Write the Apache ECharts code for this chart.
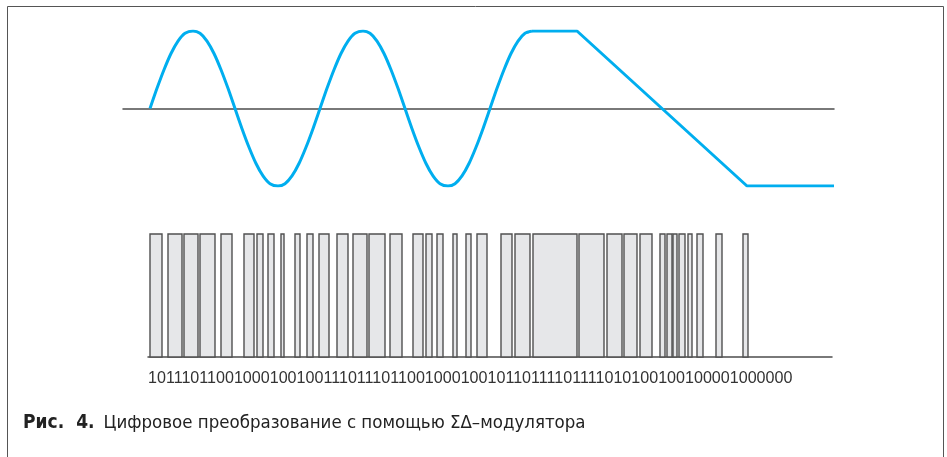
<!DOCTYPE html>
<html>
<head>
<meta charset="utf-8">
<script src="https://cdn.jsdelivr.net/npm/echarts@6/dist/echarts.min.js"></script>
<style>
html,body{margin:0;padding:0;background:#fff;}
#chart{width:947px;height:457px;}
</style>
</head>
<body>
<div id="chart"></div>
<script>
// Analog input: time (arbitrary units) and normalized amplitude
const sineTime  = [0, 7, 14, 21, 28, 35, 43, 50, 57, 64, 71, 78, 85, 92, 99, 106, 113, 120, 128, 135, 142, 149, 156, 163,
                   170, 177, 184, 191, 198, 205, 213, 220, 227, 234, 241, 248, 255, 262, 269, 276, 283, 290, 298, 305, 312, 319, 326, 333,
                   340, 347, 354, 361, 368, 375, 382];
const sineValue = [0, 0.26, 0.5, 0.71, 0.87, 0.97, 1, 0.97, 0.87, 0.71, 0.5, 0.26, 0, -0.26, -0.5, -0.71, -0.87, -0.97, -1, -0.97, -0.87, -0.71, -0.5, -0.26,
                   0, 0.26, 0.5, 0.71, 0.87, 0.97, 1, 0.97, 0.87, 0.71, 0.5, 0.26, 0, -0.26, -0.5, -0.71, -0.87, -0.97, -1, -0.97, -0.87, -0.71, -0.5, -0.26,
                   0, 0.26, 0.5, 0.71, 0.87, 0.97, 1];
// Saturated plateau, linear ramp and flat tail
const rampTime  = [382, 427, 597, 684];
const rampValue = [1, 1, -1, -1];
// Output pulses: start and end times
const pulseStart = [0, 18, 34, 50, 71, 94, 107, 118, 131, 145, 157, 169, 187, 203, 219, 240, 263, 276, 287, 303, 316, 327, 351, 365, 383, 429, 457, 474, 490, 510, 517, 523, 529, 538, 547, 566, 593];
const pulseEnd   = [12, 32, 48, 65, 82, 104, 113, 124, 134, 150, 163, 179, 198, 217, 235, 252, 273, 282, 293, 307, 321, 337, 362, 380, 427, 454, 472, 487, 502, 515, 522, 527, 535, 542, 553, 572, 598];
// Bit stream label
const bitString = '10111011001000100100111011101100100010010110111101111010100100100001000000';
const captionBold1 = 'Рис.';
const captionBold2 = '4.';
const captionText = 'Цифровое преобразование с помощью ΣΔ–модулятора';

const chart = echarts.init(document.getElementById('chart'), null, {renderer: 'canvas'});
const pulses = pulseStart.map((s, i) => [s, pulseEnd[i]]);
const capFont = '"Liberation Sans Narrow", "DejaVu Sans Condensed", "Roboto", sans-serif';

const option = {
  animation: false,
  backgroundColor: '#ffffff',
  grid: [
    {left: 123, right: 113, top: 31, height: 155},
    {left: 148, right: 115, top: 234, height: 123}
  ],
  xAxis: [
    {gridIndex: 0, type: 'value', min: -27, max: 684,
     axisLine: {show: true, onZero: true, lineStyle: {color: '#4d4d4d', width: 1.5}},
     axisTick: {show: false}, axisLabel: {show: false}, splitLine: {show: false}},
    {gridIndex: 1, type: 'value', min: -2, max: 682,
     axisLine: {show: true, lineStyle: {color: '#4d4d4d', width: 1.5}},
     axisTick: {show: false}, axisLabel: {show: false}, splitLine: {show: false}}
  ],
  yAxis: [
    {gridIndex: 0, type: 'value', min: -1, max: 1, show: false},
    {gridIndex: 1, type: 'value', min: 0, max: 1, show: false}
  ],
  series: [
    {
      type: 'custom', xAxisIndex: 1, yAxisIndex: 1, z: 1,
      data: pulses,
      renderItem: function (params, api) {
        const p0 = api.coord([api.value(0), 1]);
        const p1 = api.coord([api.value(1), 0]);
        return {
          type: 'rect',
          shape: {x: p0[0], y: p0[1], width: p1[0] - p0[0], height: p1[1] - p0[1]},
          style: {fill: '#e6e7e9', stroke: '#505050', lineWidth: 1.4}
        };
      }
    },
    {
      type: 'line', xAxisIndex: 0, yAxisIndex: 0, z: 3,
      data: sineTime.map((t, i) => [t, sineValue[i]]),
      smooth: 0.25, showSymbol: false,
      lineStyle: {color: '#00aeef', width: 3, join: 'round'}
    },
    {
      type: 'line', xAxisIndex: 0, yAxisIndex: 0, z: 3,
      data: rampTime.map((t, i) => [t, rampValue[i]]),
      smooth: false, showSymbol: false,
      lineStyle: {color: '#00aeef', width: 3}
    }
  ],
  graphic: [
    {type: 'rect', left: 5, top: 4, z: 0, silent: true,
     shape: {width: 936, height: 460},
     style: {fill: 'none', stroke: '#555555', lineWidth: 1}},
    {type: 'text', left: 148, top: 371,
     style: {text: bitString, font: '16.1px "Liberation Sans", Arial, sans-serif', fill: '#333333'}},
    {type: 'text', left: 23, top: 414,
     style: {
       text: '{b|' + captionBold1 + '}{g|}{b|' + captionBold2 + '}{s|}{r|' + captionText + '}',
       rich: {
         b: {font: 'bold 19px ' + capFont, fill: '#222222'},
         g: {width: 12},
         s: {width: 9},
         r: {font: '18.5px ' + capFont, fill: '#222222'}
       }
     }}
  ]
};
chart.setOption(option);
</script>
</body>
</html>
